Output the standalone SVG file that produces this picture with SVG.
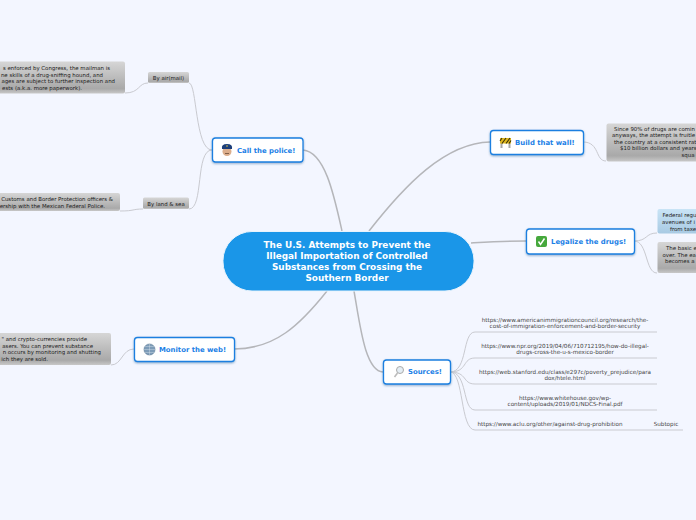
<svg xmlns="http://www.w3.org/2000/svg" width="696" height="520" viewBox="0 0 696 520">
<style>
text{font-family:"DejaVu Sans",Verdana,sans-serif}
.c{fill:none;stroke:#c9cad0;stroke-width:1}
.m{fill:none;stroke:#b5b6ba;stroke-width:1.5}
.t{fill:#fff;stroke:#1a7fe0;stroke-width:1.3;filter:url(#s)}
.tt{font-size:6.9px;font-weight:bold;fill:#1a80e6}
.g{fill:url(#gr)}
.gt{font-size:5.42px;fill:#222}
.gm{text-anchor:middle}
.ge{text-anchor:end}
.u{font-size:5.65px;fill:#444;text-anchor:middle}
.ct{font-size:8.9px;font-weight:bold;fill:#fff;text-anchor:middle}
</style>
<defs>
<linearGradient id="gr" x1="0" y1="0" x2="0" y2="1"><stop offset="0" stop-color="#d6d6d6"/><stop offset=".85" stop-color="#a9a9a9"/><stop offset="1" stop-color="#c8c8c8"/></linearGradient>
<linearGradient id="bl" x1="0" y1="0" x2="0" y2="1"><stop offset="0" stop-color="#c9e4f6"/><stop offset="1" stop-color="#a8cae3"/></linearGradient>
<filter id="s" x="-10%" y="-20%" width="120%" height="150%"><feDropShadow dx="0" dy="1" stdDeviation=".8" flood-color="#1a4f8a" flood-opacity=".45"/></filter>
</defs>
<rect width="696" height="520" fill="#f3f6ff"/>
<g id="connectors">
<path class="m" d="M342 231C334 195 325 152 303 150"/>
<path class="m" d="M369 231C405 185 445 143 490 142"/>
<path class="m" d="M471 243C490 242 508 241 526 241"/>
<path class="m" d="M354 291C360 325 365 371 383 372"/>
<path class="m" d="M327 291C300 325 275 349 234 349"/>
<path class="c" d="M212 150C195 150 197 83 189 83"/>
<path class="c" d="M212 150C195 150 204 209 189 209"/>
<path class="c" d="M148 83C138 83 140 93 125 93"/>
<path class="c" d="M143 209C132 209 135 211 120 211"/>
<path class="c" d="M134 349C122 349 122 365 111 365"/>
<path class="c" d="M583 142C600 142 595 161 606 161"/>
<path class="c" d="M634 241C648 241 645 233 657 233"/>
<path class="c" d="M634 241C648 241 645 273 657 273"/>
<path class="c" d="M450 372C468 372 462 332 475 332L657 332"/>
<path class="c" d="M450 372C468 372 462 358 475 358L657 358"/>
<path class="c" d="M450 372C468 372 462 384 475 384L657 384"/>
<path class="c" d="M450 372C468 372 462 410 475 410L657 410"/>
<path class="c" d="M450 372C464 372 460 430 475 430L627 430"/>
<path class="c" d="M627 430L683 430"/>
</g>
<g id="center"><rect x="223" y="231.5" width="251" height="59.5" rx="29" fill="#1a96e8" stroke="#e8f3fc" stroke-width="1"/>
<text class="ct" x="347" y="248">The U.S. Attempts to Prevent the</text>
<text class="ct" x="347" y="259">Illegal Importation of Controlled</text>
<text class="ct" x="347" y="270">Substances from Crossing the</text>
<text class="ct" x="347" y="281">Southern Border</text></g>
<g id="police"><rect class="t" x="212.5" y="138" width="90.5" height="24" rx="3"/>
<circle cx="227" cy="151.500" r="4.500" fill="#dcae8c"/><path d="M222 149Q221 144 227 144Q233 144 232 149Z" fill="#1d3f7a"/><circle cx="227" cy="146" r=".8" fill="#e8c840"/><path d="M225 153.500h4" stroke="#6b4a36" stroke-width=".8"/>
<text class="tt" x="237" y="153">Call the police!</text></g>
<g id="wall"><rect class="t" x="490.5" y="130.5" width="93" height="24" rx="3"/>
<path d="M501.500 143v5M509.500 143v5" stroke="#a8a8a8" stroke-width="2"/><rect x="500" y="138" width="11" height="5.500" fill="#e0b820"/><path d="M502 138l-2 3M506 138l-4 5.500M510 138l-4 5.500M511 140.500l-2 3" stroke="#3a3208" stroke-width="1.100"/>
<text class="tt" x="515" y="145">Build that wall!</text></g>
<g id="legalize"><rect class="t" x="526.5" y="229" width="108" height="25" rx="3"/>
<rect x="536" y="236" width="11" height="11" rx="2" fill="#46a83c"/><path d="M538.500 241.500l2 3 4-6" fill="none" stroke="#fff" stroke-width="1.500"/>
<text class="tt" x="551" y="244">Legalize the drugs!</text></g>
<g id="sources"><rect class="t" x="383.500" y="360" width="67" height="24" rx="3"/>
<circle cx="400" cy="370" r="3.500" fill="#e4edf4" stroke="#aaa"/><path d="M397.500 373l-3 4" stroke="#bbb" stroke-width="1.500"/>
<text class="tt" x="408" y="374">Sources!</text></g>
<g id="monitor"><rect class="t" x="134.500" y="337.500" width="100" height="24" rx="3"/>
<circle cx="149.500" cy="349.500" r="5.500" fill="#7d9cb8" stroke="#5c7a96" stroke-width=".6"/><path d="M144 349.500h11M149.500 344v11M145 346.500h9M145 352.500h9" stroke="#dbe5ee" stroke-width=".4"/>
<text class="tt" x="159" y="352">Monitor the web!</text></g>
<g id="air"><rect class="g" x="148" y="72" width="41" height="11" rx="1.500"/><text class="gt gm" x="168.500" y="80">By air(mail)</text></g>
<g id="land"><rect class="g" x="143" y="197.500" width="46" height="11.500" rx="1.500"/><text class="gt gm" x="166" y="205.500">By land &amp; sea</text></g>
<g id="air-note"><rect class="g" x="-20" y="61.500" width="145" height="32" rx="2"/>
<text class="gt ge" x="110" y="69.500">s enforced by Congress, the mailman is</text>
<text class="gt ge" x="103" y="76.500">ne skills of a drug-sniffing hound, and</text>
<text class="gt ge" x="115" y="83">ages are subject to further inspection and</text>
<text class="gt ge" x="82" y="89.500">ests (a.k.a. more paperwork).</text></g>
<g id="land-note"><rect class="g" x="-20" y="193" width="140" height="18" rx="2"/>
<text class="gt ge" x="113" y="201">Customs and Border Protection officers &amp;</text>
<text class="gt ge" x="105" y="207.500">ership with the Mexican Federal Police.</text></g>
<g id="web-note"><rect class="g" x="-20" y="333" width="131" height="32" rx="2"/>
<text class="gt ge" x="87" y="341">" and crypto-currencies provide</text>
<text class="gt ge" x="93" y="347.500">asers. You can prevent substance</text>
<text class="gt ge" x="101" y="354">n occurs by monitoring and shutting</text>
<text class="gt ge" x="48" y="360.500">ich they are sold.</text></g>
<g id="wall-note"><rect class="g" x="606.500" y="123.500" width="100" height="38" rx="2"/>
<text class="gt" x="614" y="130.500">Since 90% of drugs are comin</text>
<text class="gt" x="612" y="137">anyways, the attempt is fruitle</text>
<text class="gt" x="614" y="143.500">the country at a consistent rat</text>
<text class="gt" x="620" y="150">$10 billion dollars and years</text>
<text class="gt" x="681.500" y="156.500">squa</text></g>
<g id="legal-note-1"><rect x="657.500" y="209" width="50" height="24.500" rx="2" fill="url(#bl)"/>
<text class="gt" x="662.500" y="217">Federal regu</text>
<text class="gt" x="662" y="224">avenues of i</text>
<text class="gt" x="670" y="230.500">from taxe</text></g>
<g id="legal-note-2"><rect class="g" x="657.500" y="242" width="50" height="31" rx="2"/>
<text class="gt" x="666" y="250">The basic e</text>
<text class="gt" x="662.500" y="256.500">over. The ea</text>
<text class="gt" x="665" y="263">becomes a</text></g>
<g id="links">
<text class="u" x="565" y="322">https://www.americanimmigrationcouncil.org/research/the-</text>
<text class="u" x="565" y="328">cost-of-immigration-enforcement-and-border-security</text>
<text class="u" x="565" y="348">https://www.npr.org/2019/04/06/710712195/how-do-illegal-</text>
<text class="u" x="565" y="354">drugs-cross-the-u-s-mexico-border</text>
<text class="u" x="565" y="374">https://web.stanford.edu/class/e297c/poverty_prejudice/para</text>
<text class="u" x="565" y="380">dox/htele.html</text>
<text class="u" x="565" y="400">https://www.whitehouse.gov/wp-</text>
<text class="u" x="565" y="406">content/uploads/2019/01/NDCS-Final.pdf</text>
<text class="u" x="550" y="426">https://www.aclu.org/other/against-drug-prohibition</text>
<text class="u" x="666" y="426">Subtopic</text>
</g>
</svg>
